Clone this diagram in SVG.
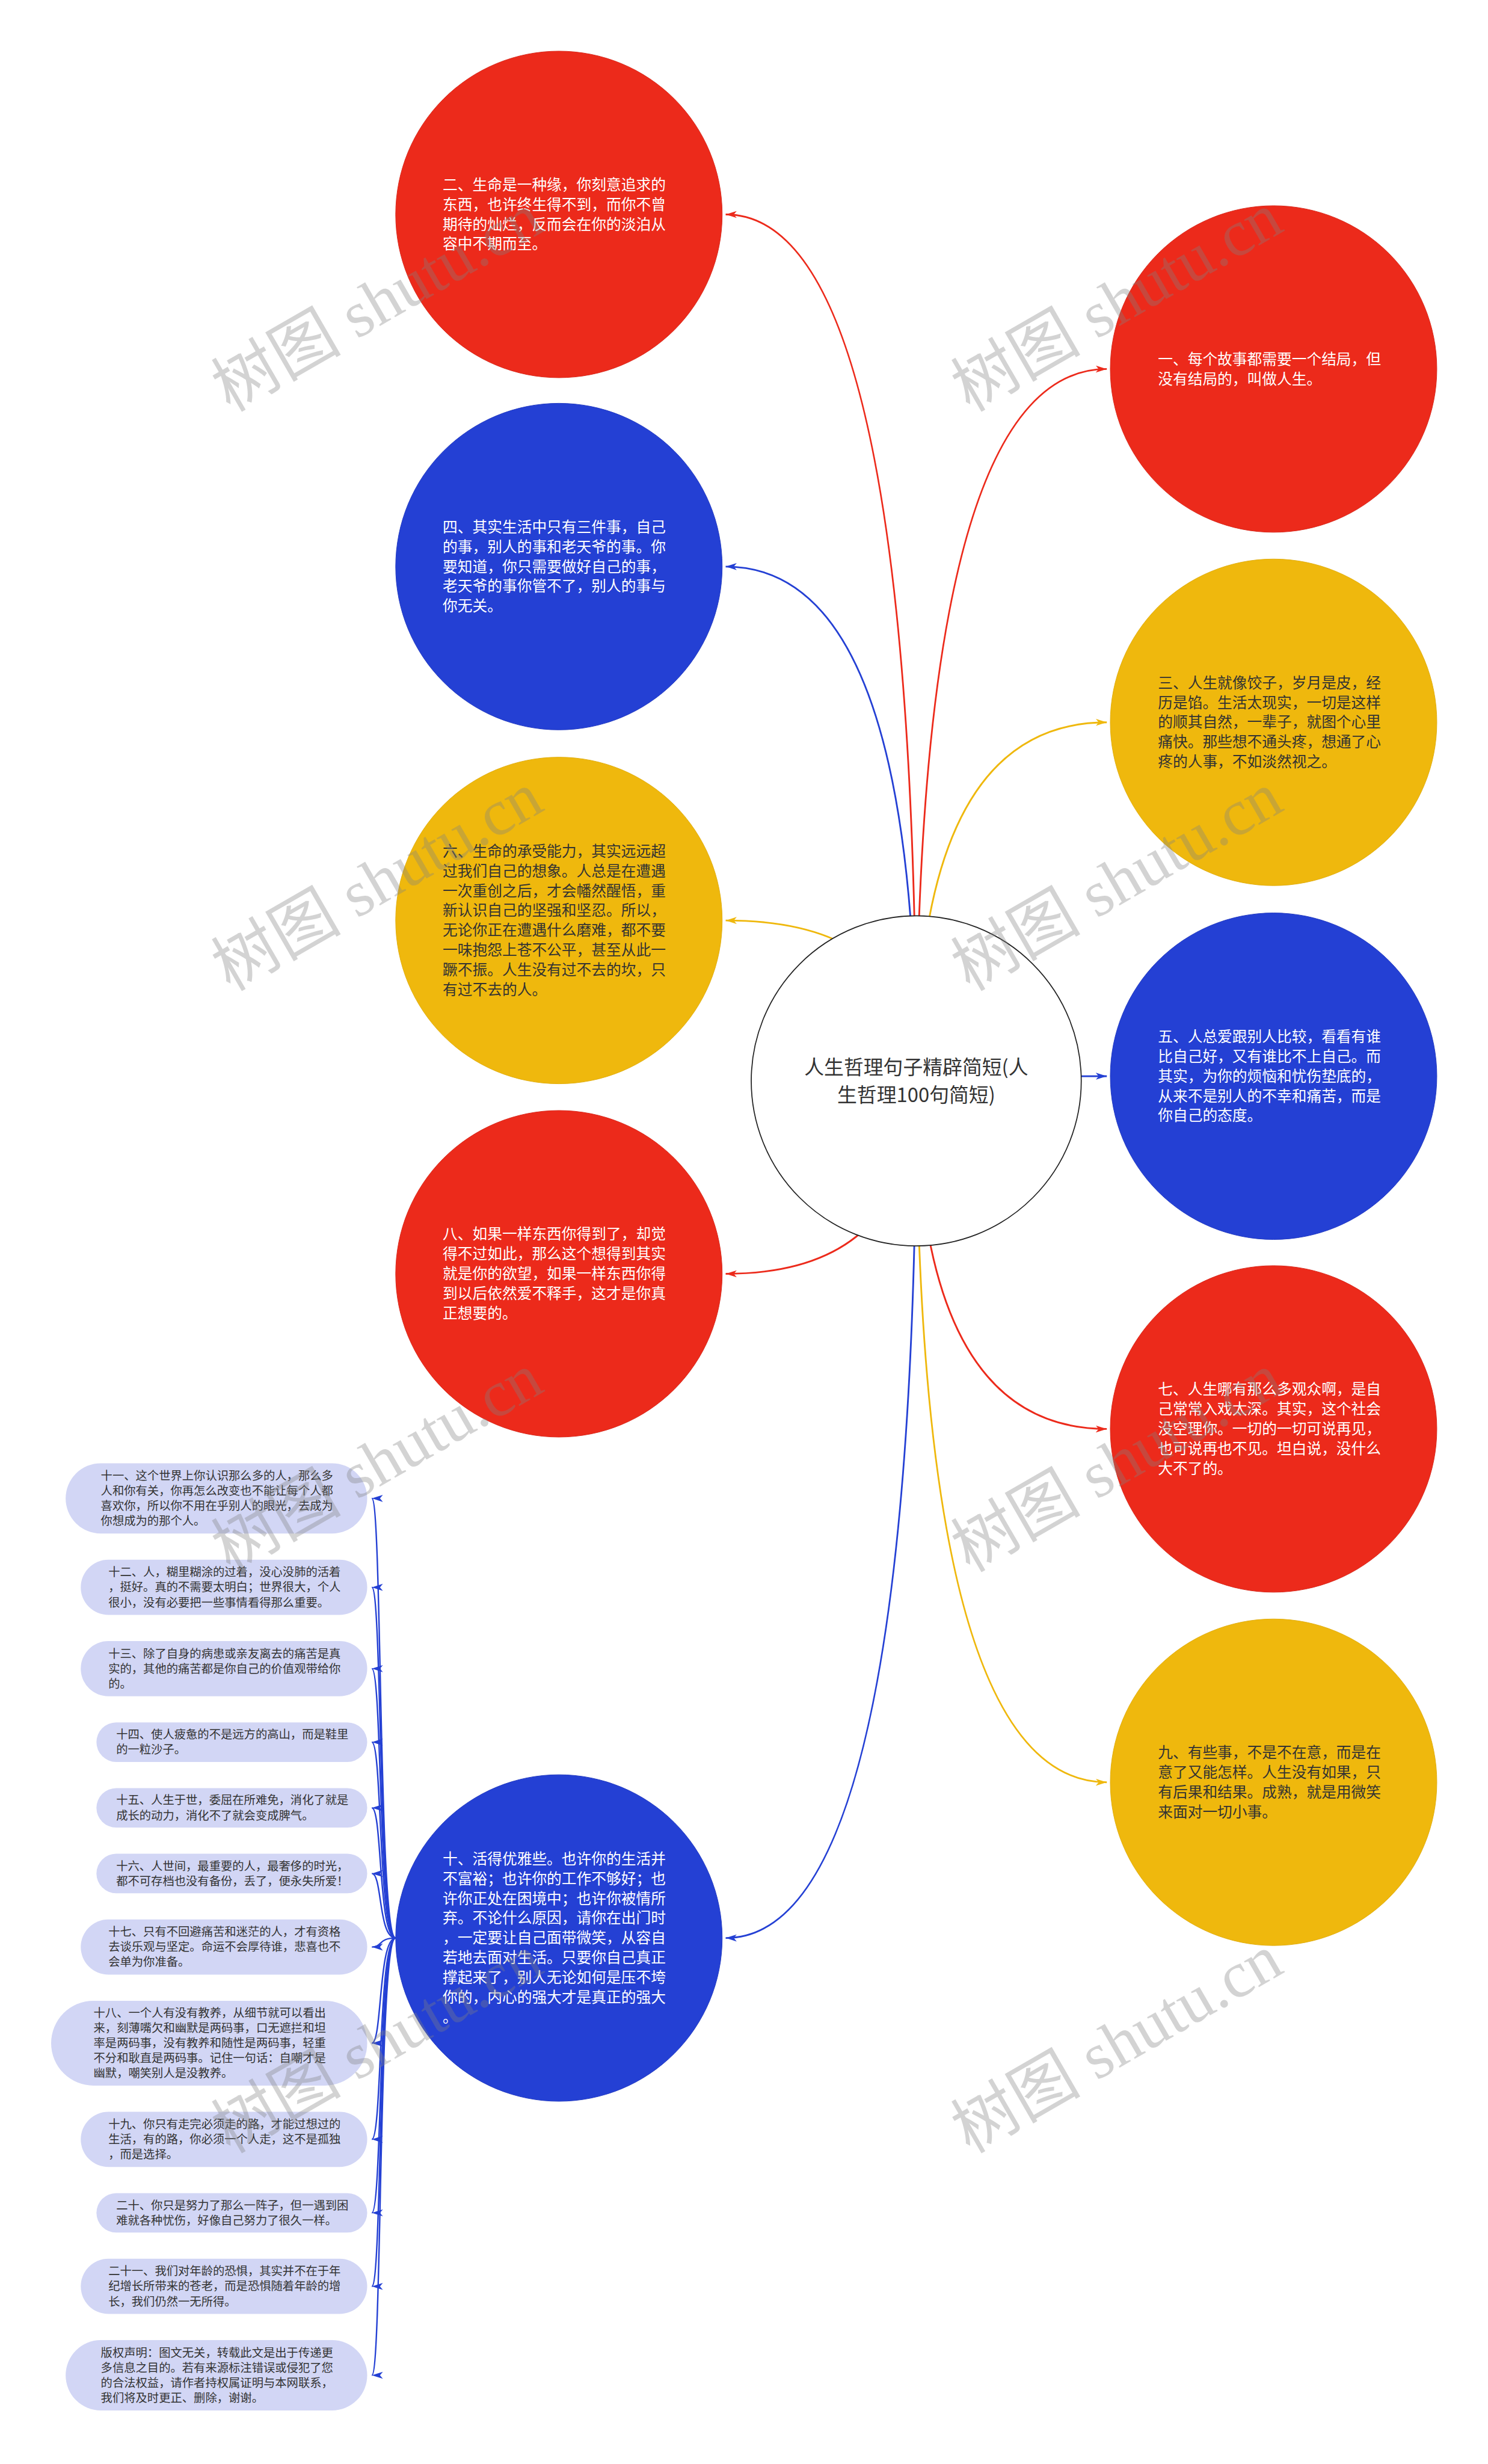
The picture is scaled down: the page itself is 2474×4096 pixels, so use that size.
<svg xmlns="http://www.w3.org/2000/svg" width="2474" height="4096" viewBox="0 0 2474 4096">
<style>
.nt{font-family:"Noto Sans CJK SC","Noto Sans",sans-serif;font-size:25.6px}
.wt{fill:#ffffff}
.dt{fill:#333333}
.ct{font-family:"Noto Sans CJK SC","Noto Sans",sans-serif;font-size:34px;fill:#333333;text-anchor:middle}
.pt{font-family:"Noto Sans CJK SC","Noto Sans",sans-serif;font-size:20px;fill:#333333}
.pill{fill:#D2D6F5}
.red{fill:#EC2A1B;stroke:#D8261A;stroke-width:1}
.blue{fill:#2440D4;stroke:#2038C0;stroke-width:1}
.yel{fill:#EFB80D;stroke:#E0AC0C;stroke-width:1}
.cr{fill:none;stroke:#EC2A1B;stroke-width:3;marker-end:url(#ar)}
.cb{fill:none;stroke:#2440D4;stroke-width:3;marker-end:url(#ab)}
.cy{fill:none;stroke:#EFB80D;stroke-width:3;marker-end:url(#ay)}
.cp{fill:none;stroke:#2440D4;stroke-width:2.5;marker-end:url(#ab)}
.wm{font-family:"Liberation Serif","Noto Sans CJK SC",serif;font-size:112px;fill:#808080;fill-opacity:0.35;text-anchor:middle}
</style>
<defs>
<marker id="ar" markerUnits="userSpaceOnUse" markerWidth="20" markerHeight="14" refX="19" refY="7" orient="auto"><path d="M0,1 L19,7 L0,13 L5,7 Z" fill="#EC2A1B"/></marker>
<marker id="ab" markerUnits="userSpaceOnUse" markerWidth="20" markerHeight="14" refX="19" refY="7" orient="auto"><path d="M0,1 L19,7 L0,13 L5,7 Z" fill="#2440D4"/></marker>
<marker id="ay" markerUnits="userSpaceOnUse" markerWidth="20" markerHeight="14" refX="19" refY="7" orient="auto"><path d="M0,1 L19,7 L0,13 L5,7 Z" fill="#EFB80D"/></marker>
</defs>
<rect x="0" y="0" width="2474" height="4096" fill="#ffffff"/>
<g transform="scale(0.966)">
<g id="connectors">
<path class="cr" d="M1577,1860 Q1577,635 1905,635"/>
<path class="cr" d="M1577,1860 Q1577,369 1249,369"/>
<path class="cy" d="M1577,1860 Q1577,1243 1905,1243"/>
<path class="cb" d="M1577,1860 Q1577,975 1249,975"/>
<path class="cb" d="M1577,1860 Q1577,1852 1905,1852"/>
<path class="cy" d="M1577,1860 Q1577,1584 1249,1584"/>
<path class="cr" d="M1577,1860 Q1577,2459 1905,2459"/>
<path class="cr" d="M1577,1860 Q1577,2192 1249,2192"/>
<path class="cy" d="M1577,1860 Q1577,3067 1905,3067"/>
<path class="cb" d="M1577,1860 Q1577,3335 1249,3335"/>
<path class="cp" d="M681,3335 C651,3335 658,2578.5 640,2578.5"/>
<path class="cp" d="M681,3335 C651,3335 658,2731.5 640,2731.5"/>
<path class="cp" d="M681,3335 C651,3335 658,2871.5 640,2871.5"/>
<path class="cp" d="M681,3335 C651,3335 658,2998 640,2998"/>
<path class="cp" d="M681,3335 C651,3335 658,3111 640,3111"/>
<path class="cp" d="M681,3335 C651,3335 658,3224 640,3224"/>
<path class="cp" d="M681,3335 C651,3335 658,3350.5 640,3350.5"/>
<path class="cp" d="M681,3335 C651,3335 658,3516 640,3516"/>
<path class="cp" d="M681,3335 C651,3335 658,3681.5 640,3681.5"/>
<path class="cp" d="M681,3335 C651,3335 658,3808 640,3808"/>
<path class="cp" d="M681,3335 C651,3335 658,3934.5 640,3934.5"/>
<path class="cp" d="M681,3335 C651,3335 658,4087.5 640,4087.5"/>
</g>
<g id="n-center">
<circle cx="1577" cy="1860" r="284" fill="#ffffff" stroke="#222222" stroke-width="1.8"/>
<text class="ct" x="1577" y="1849">人生哲理句子精辟简短(人<tspan x="1577" dy="47">生哲理100句简短)</tspan></text>
</g>
<g id="n1">
<circle class="red" cx="2192" cy="635" r="281"/>
<text class="nt wt" x="1993" y="627">一、每个故事都需要一个结局，但<tspan x="1993" dy="34">没有结局的，叫做人生。</tspan></text>
</g>
<g id="n2">
<circle class="red" cx="962" cy="369" r="281"/>
<text class="nt wt" x="762" y="327">二、生命是一种缘，你刻意追求的<tspan x="762" dy="34">东西，也许终生得不到，而你不曾</tspan><tspan x="762" dy="34">期待的灿烂，反而会在你的淡泊从</tspan><tspan x="762" dy="34">容中不期而至。</tspan></text>
</g>
<g id="n3">
<circle class="yel" cx="2192" cy="1243" r="281"/>
<text class="nt dt" x="1993" y="1184">三、人生就像饺子，岁月是皮，经<tspan x="1993" dy="34">历是馅。生活太现实，一切是这样</tspan><tspan x="1993" dy="34">的顺其自然，一辈子，就图个心里</tspan><tspan x="1993" dy="34">痛快。那些想不通头疼，想通了心</tspan><tspan x="1993" dy="34">疼的人事，不如淡然视之。</tspan></text>
</g>
<g id="n4">
<circle class="blue" cx="962" cy="975" r="281"/>
<text class="nt wt" x="762" y="916">四、其实生活中只有三件事，自己<tspan x="762" dy="34">的事，别人的事和老天爷的事。你</tspan><tspan x="762" dy="34">要知道，你只需要做好自己的事，</tspan><tspan x="762" dy="34">老天爷的事你管不了，别人的事与</tspan><tspan x="762" dy="34">你无关。</tspan></text>
</g>
<g id="n5">
<circle class="blue" cx="2192" cy="1852" r="281"/>
<text class="nt wt" x="1993" y="1793">五、人总爱跟别人比较，看看有谁<tspan x="1993" dy="34">比自己好，又有谁比不上自己。而</tspan><tspan x="1993" dy="34">其实，为你的烦恼和忧伤垫底的，</tspan><tspan x="1993" dy="34">从来不是别人的不幸和痛苦，而是</tspan><tspan x="1993" dy="34">你自己的态度。</tspan></text>
</g>
<g id="n6">
<circle class="yel" cx="962" cy="1584" r="281"/>
<text class="nt dt" x="762" y="1474">六、生命的承受能力，其实远远超<tspan x="762" dy="34">过我们自己的想象。人总是在遭遇</tspan><tspan x="762" dy="34">一次重创之后，才会幡然醒悟，重</tspan><tspan x="762" dy="34">新认识自己的坚强和坚忍。所以，</tspan><tspan x="762" dy="34">无论你正在遭遇什么磨难，都不要</tspan><tspan x="762" dy="34">一味抱怨上苍不公平，甚至从此一</tspan><tspan x="762" dy="34">蹶不振。人生没有过不去的坎，只</tspan><tspan x="762" dy="34">有过不去的人。</tspan></text>
</g>
<g id="n7">
<circle class="red" cx="2192" cy="2459" r="281"/>
<text class="nt wt" x="1993" y="2400">七、人生哪有那么多观众啊，是自<tspan x="1993" dy="34">己常常入戏太深。其实，这个社会</tspan><tspan x="1993" dy="34">没空理你。一切的一切可说再见，</tspan><tspan x="1993" dy="34">也可说再也不见。坦白说，没什么</tspan><tspan x="1993" dy="34">大不了的。</tspan></text>
</g>
<g id="n8">
<circle class="red" cx="962" cy="2192" r="281"/>
<text class="nt wt" x="762" y="2133">八、如果一样东西你得到了，却觉<tspan x="762" dy="34">得不过如此，那么这个想得到其实</tspan><tspan x="762" dy="34">就是你的欲望，如果一样东西你得</tspan><tspan x="762" dy="34">到以后依然爱不释手，这才是你真</tspan><tspan x="762" dy="34">正想要的。</tspan></text>
</g>
<g id="n9">
<circle class="yel" cx="2192" cy="3067" r="281"/>
<text class="nt dt" x="1993" y="3025">九、有些事，不是不在意，而是在<tspan x="1993" dy="34">意了又能怎样。人生没有如果，只</tspan><tspan x="1993" dy="34">有后果和结果。成熟，就是用微笑</tspan><tspan x="1993" dy="34">来面对一切小事。</tspan></text>
</g>
<g id="n10">
<circle class="blue" cx="962" cy="3335" r="281"/>
<text class="nt wt" x="762" y="3208">十、活得优雅些。也许你的生活并<tspan x="762" dy="34">不富裕；也许你的工作不够好；也</tspan><tspan x="762" dy="34">许你正处在困境中；也许你被情所</tspan><tspan x="762" dy="34">弃。不论什么原因，请你在出门时</tspan><tspan x="762" dy="34">，一定要让自己面带微笑，从容自</tspan><tspan x="762" dy="34">若地去面对生活。只要你自己真正</tspan><tspan x="762" dy="34">撑起来了，别人无论如何是压不垮</tspan><tspan x="762" dy="34">你的，内心的强大才是真正的强大</tspan><tspan x="762" dy="34">。</tspan></text>
</g>
<g id="n11">
<rect class="pill" x="113" y="2518" width="519" height="121" rx="60.5"/>
<text class="pt" x="173.5" y="2546.5">十一、这个世界上你认识那么多的人，那么多<tspan x="173.5" dy="26">人和你有关，你再怎么改变也不能让每个人都</tspan><tspan x="173.5" dy="26">喜欢你，所以你不用在乎别人的眼光，去成为</tspan><tspan x="173.5" dy="26">你想成为的那个人。</tspan></text>
</g>
<g id="n12">
<rect class="pill" x="139" y="2684" width="493" height="95" rx="47.5"/>
<text class="pt" x="186.5" y="2712.5">十二、人，糊里糊涂的过着，没心没肺的活着<tspan x="186.5" dy="26">，挺好。真的不需要太明白；世界很大，个人</tspan><tspan x="186.5" dy="26">很小，没有必要把一些事情看得那么重要。</tspan></text>
</g>
<g id="n13">
<rect class="pill" x="139" y="2824" width="493" height="95" rx="47.5"/>
<text class="pt" x="186.5" y="2852.5">十三、除了自身的病患或亲友离去的痛苦是真<tspan x="186.5" dy="26">实的，其他的痛苦都是你自己的价值观带给你</tspan><tspan x="186.5" dy="26">的。</tspan></text>
</g>
<g id="n14">
<rect class="pill" x="166" y="2964" width="466" height="68" rx="34"/>
<text class="pt" x="200" y="2992">十四、使人疲惫的不是远方的高山，而是鞋里<tspan x="200" dy="26">的一粒沙子。</tspan></text>
</g>
<g id="n15">
<rect class="pill" x="166" y="3077" width="466" height="68" rx="34"/>
<text class="pt" x="200" y="3105">十五、人生于世，委屈在所难免，消化了就是<tspan x="200" dy="26">成长的动力，消化不了就会变成脾气。</tspan></text>
</g>
<g id="n16">
<rect class="pill" x="166" y="3190" width="466" height="68" rx="34"/>
<text class="pt" x="200" y="3218">十六、人世间，最重要的人，最奢侈的时光，<tspan x="200" dy="26">都不可存档也没有备份，丢了，便永失所爱！</tspan></text>
</g>
<g id="n17">
<rect class="pill" x="139" y="3303" width="493" height="95" rx="47.5"/>
<text class="pt" x="186.5" y="3331.5">十七、只有不回避痛苦和迷茫的人，才有资格<tspan x="186.5" dy="26">去谈乐观与坚定。命运不会厚待谁，悲喜也不</tspan><tspan x="186.5" dy="26">会单为你准备。</tspan></text>
</g>
<g id="n18">
<rect class="pill" x="88" y="3443" width="544" height="146" rx="73"/>
<text class="pt" x="161" y="3471">十八、一个人有没有教养，从细节就可以看出<tspan x="161" dy="26">来，刻薄嘴欠和幽默是两码事，口无遮拦和坦</tspan><tspan x="161" dy="26">率是两码事，没有教养和随性是两码事，轻重</tspan><tspan x="161" dy="26">不分和耿直是两码事。记住一句话：自嘲才是</tspan><tspan x="161" dy="26">幽默，嘲笑别人是没教养。</tspan></text>
</g>
<g id="n19">
<rect class="pill" x="139" y="3634" width="493" height="95" rx="47.5"/>
<text class="pt" x="186.5" y="3662.5">十九、你只有走完必须走的路，才能过想过的<tspan x="186.5" dy="26">生活，有的路，你必须一个人走，这不是孤独</tspan><tspan x="186.5" dy="26">，而是选择。</tspan></text>
</g>
<g id="n20">
<rect class="pill" x="166" y="3774" width="466" height="68" rx="34"/>
<text class="pt" x="200" y="3802">二十、你只是努力了那么一阵子，但一遇到困<tspan x="200" dy="26">难就各种忧伤，好像自己努力了很久一样。</tspan></text>
</g>
<g id="n21">
<rect class="pill" x="139" y="3887" width="493" height="95" rx="47.5"/>
<text class="pt" x="186.5" y="3915.5">二十一、我们对年龄的恐惧，其实并不在于年<tspan x="186.5" dy="26">纪增长所带来的苍老，而是恐惧随着年龄的增</tspan><tspan x="186.5" dy="26">长，我们仍然一无所得。</tspan></text>
</g>
<g id="n-copyright">
<rect class="pill" x="113" y="4027" width="519" height="121" rx="60.5"/>
<text class="pt" x="173.5" y="4055.5">版权声明：图文无关，转载此文是出于传递更<tspan x="173.5" dy="26">多信息之目的。若有来源标注错误或侵犯了您</tspan><tspan x="173.5" dy="26">的合法权益，请作者持权属证明与本网联系，</tspan><tspan x="173.5" dy="26">我们将及时更正、删除，谢谢。</tspan></text>
</g>
<g id="watermarks">
<text class="wm" transform="translate(649,520) rotate(-30)" y="38">树图 shutu.cn</text>
<text class="wm" transform="translate(1922,520) rotate(-30)" y="38">树图 shutu.cn</text>
<text class="wm" transform="translate(649,1517) rotate(-30)" y="38">树图 shutu.cn</text>
<text class="wm" transform="translate(1922,1517) rotate(-30)" y="38">树图 shutu.cn</text>
<text class="wm" transform="translate(649,2517) rotate(-30)" y="38">树图 shutu.cn</text>
<text class="wm" transform="translate(1922,2517) rotate(-30)" y="38">树图 shutu.cn</text>
<text class="wm" transform="translate(649,3517) rotate(-30)" y="38">树图 shutu.cn</text>
<text class="wm" transform="translate(1922,3517) rotate(-30)" y="38">树图 shutu.cn</text>
</g>
</g>
</svg>
